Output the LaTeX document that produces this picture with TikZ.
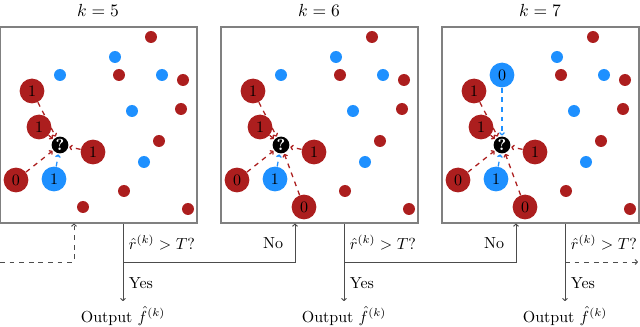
\documentclass[tikz,border=0pt]{standalone}
\usepackage{amsmath}
\usepackage{xcolor}
\usepackage{tikz}
\usetikzlibrary{arrows.meta,positioning,calc}
\definecolor{ptred}{RGB}{172,30,30}
\definecolor{ptblue}{RGB}{30,144,255}
\tikzset{
  panel/.style   ={rectangle, draw=black!50, line width=1.1pt, inner sep=0pt,
                   minimum width=123.1pt, minimum height=122.5pt},
  dotr/.style    ={circle, fill=ptred, inner sep=0pt, minimum size=7.5pt},
  dotb/.style    ={circle, fill=ptblue, inner sep=0pt, minimum size=7.5pt},
  nbr/.style     ={circle, fill=ptred, inner sep=0pt, minimum size=15.5pt},
  nbb/.style     ={circle, fill=ptblue, inner sep=0pt, minimum size=15.5pt},
  query/.style   ={circle, fill=black, text=white, inner sep=0pt, minimum size=10.5pt,
                   font=\bfseries},
  linkr/.style   ={draw=ptred, dashed, thick, -{To[length=2pt,width=3.5pt]}, shorten >=0.5pt},
  linkb/.style   ={draw=ptblue, dashed, thick, -{To[length=2pt,width=3.5pt]}, shorten >=0.5pt},
  flow/.style    ={draw=black!70, semithick, -{To[length=2pt,width=3.5pt]}},
  lbl/.style     ={inner sep=1pt},
}
\begin{document}
\begin{tikzpicture}[x=0.625pt, y=-0.625pt]
  \useasboundingbox (0,0) rectangle (640,327);

  \foreach \ox/\k in {0/5, 221/6, 442/7} {
    \begin{scope}[shift={(\ox,0)}]
      \node[font=\fontsize{11}{13}\selectfont] (title\k) at (98,10) {$k=\k$};
      \node[panel] (box\k) at (98.5,125) {};

      % background points
      \foreach \px/\py in {151/37, 119/75, 183/80, 181/109, 159/141, 124/191, 188/209}
        \node[dotr] at (\px,\py) {};
      \foreach \px/\py in {115/57, 162/75, 132/111, 144/162}
        \node[dotb] at (\px,\py) {};

      % query and neighbours
      \node[query] (q\k) at (60,145) {?};
      \node[nbr] (a\k) at (32,91) {1};
      \node[nbr] (b\k) at (39,127) {1};
      \node[nbr] (c\k) at (93,152) {1};
      \node[nbr] (d\k) at (16,180) {0};
      \node[nbb] (e\k) at (54,179) {1};
      \foreach \n in {a,b,c,d}
        \draw[linkr] (\n\k) -- (q\k);
      \draw[linkb] (e\k) -- (q\k);

      \ifnum\k>5
        \node[nbr] (f\k) at (83,207) {0};
        \draw[linkr] (f\k) -- (q\k);
      \else
        \node[dotr] at (83,207) {};
      \fi
      \ifnum\k>6
        \node[nbb] (g\k) at (60,75) {0};
        \draw[linkb] (g\k) -- (q\k);
      \else
        \node[dotb] at (60,75) {};
      \fi

      % decision below the panel
      \coordinate (in\k) at (74,223.5);
      \coordinate (j\k) at (123,262);
      \node (out\k) at (123,316) {Output $\hat{f}^{(k)}$};
      \draw[flow] (out\k.north |- box\k.south) -- (out\k);
      \node[lbl, anchor=west] (test\k) at (127,243) {$\hat{r}^{(k)} > T$?};
      \node[lbl, anchor=west] (yes\k) at (127,283) {Yes};
    \end{scope}
  }

  \coordinate (start) at (0,262);
  \coordinate (end) at (638,262);
  \node[lbl, anchor=east] (no5) at (285,243) {No};
  \node[lbl, anchor=east] (no6) at (506,243) {No};

  \draw[flow, dashed] (start) -| (in5);
  \draw[flow] (j5) -| (in6);
  \draw[flow] (j6) -| (in7);
  \draw[flow, dashed] (j7) -- (end);
\end{tikzpicture}
\end{document}
